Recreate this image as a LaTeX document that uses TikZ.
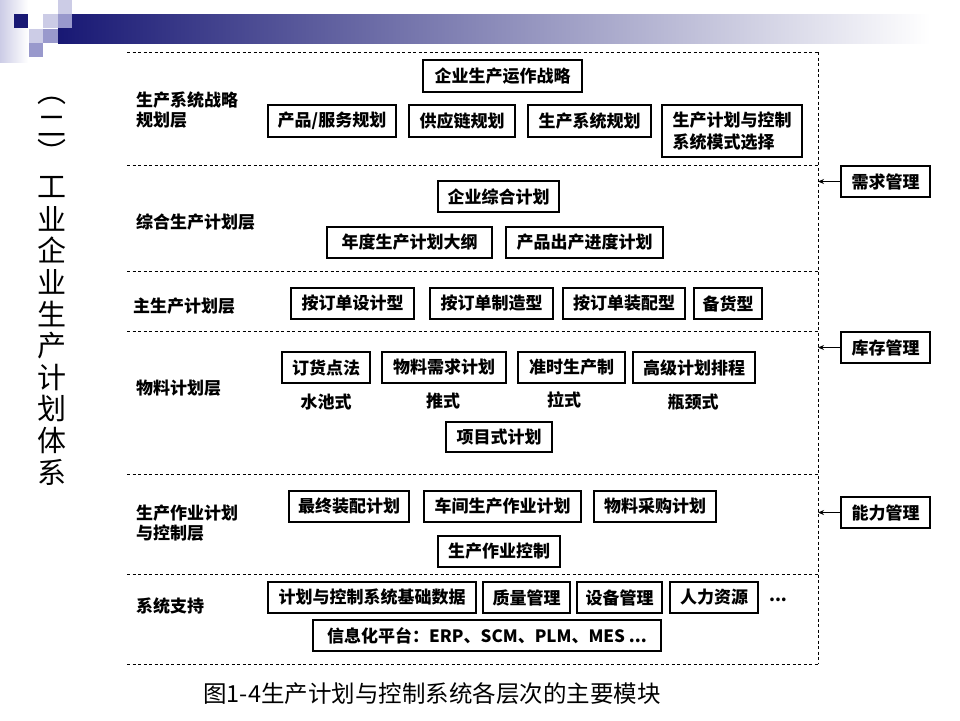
\documentclass[tikz,border=0pt]{standalone}
\usepackage{fontspec}
\setmainfont{Liberation Sans}
\newfontfamily\cjk{Noto Sans CJK SC}
\usetikzlibrary{arrows.meta}
\definecolor{navy}{RGB}{24,24,116}
\definecolor{lav}{RGB}{204,204,230}
\definecolor{midlav}{RGB}{153,153,204}
\definecolor{barmid}{RGB}{174,174,198}
\tikzset{
  mod/.style={draw, line width=1.1pt, fill=white, inner sep=0pt, align=center,
    font=\cjk\bfseries\fontsize{17}{22}\selectfont},
  lab/.style={anchor=west, inner sep=0pt, align=left,
    font=\cjk\bfseries\fontsize{17}{20}\selectfont},
  plain/.style={inner sep=0pt, font=\cjk\bfseries\fontsize{17}{20}\selectfont},
  tchar/.style={inner sep=0pt, font=\cjk\fontsize{29}{29}\selectfont},
  layer/.style={dash pattern=on 3pt off 2.5pt, line width=0.9pt},
  side/.style={-{Stealth[length=6pt,width=5pt]}, line width=1.1pt}
}
\newcommand\modbox[6]{\node[mod, minimum width={(#4)-(#2)}, minimum height={(#5)-(#3)}] (#1) at ({((#2)+(#4))/2},{((#3)+(#5))/2}) {#6};}
\begin{document}
\begin{tikzpicture}[x=1pt,y=-1pt]
\useasboundingbox (0,0) rectangle (960,720);
\fill[white] (0,0) rectangle (960,720);
% decoration
\shade[left color=lav, right color=white] (0,0) rectangle (28,62);
\shade[left color=navy, middle color=barmid, right color=white] (58,14) rectangle (930,43);
\fill[navy] (14,14) rectangle (28,28);
\fill[lav] (43,14) rectangle (58,28);
\fill[lav] (58,0) rectangle (72,14);
\fill[midlav] (58,14) rectangle (72,28);
\fill[lav] (29,29) rectangle (43,43);
\fill[midlav] (43,29) rectangle (58,43);
\fill[midlav] (29,43) rectangle (43,57);
% vertical title
\node[tchar] (t0) at (52,101) {︵};
\node[tchar] (t1) at (52,126) {二};
\node[tchar] (t2) at (52,151) {︶};
\foreach \c [count=\i from 0] in {工,业,企,业,生,产,计,划,体,系}
  \node[tchar] (tt\i) at (52,{187+31.7*\i}) {\c};
% layer lines
\foreach \yy in {52,165,271,331,474,574,664}
  \draw[layer] (127,\yy) -- (818,\yy);
\draw[layer] (818,52) -- (818,664);
% layer labels
\node[lab] (L1) at (136,110) {生产系统战略\\规划层};
\node[lab] (L2) at (136,222) {综合生产计划层};
\node[lab] (L3) at (133,306) {主生产计划层};
\node[lab] (L4) at (136,388) {物料计划层};
\node[lab] (L5) at (136,523) {生产作业计划\\与控制层};
\node[lab] (L6) at (136,606) {系统支持};
% layer 1
\modbox{b1}{423}{60}{582}{92}{企业生产运作战略}
\modbox{b2}{268}{105}{396}{137}{产品/服务规划}
\modbox{b3}{409}{105}{515}{137}{供应链规划}
\modbox{b4}{528}{105}{651}{137}{生产系统规划}
\node[mod, align=left, minimum width=140, minimum height=52] (b5) at (732,131) {生产计划与控制\\系统模式选择};
% layer 2
\modbox{c1}{438}{181}{559}{212}{企业综合计划}
\modbox{c2}{327}{227}{492}{258}{年度生产计划大纲}
\modbox{c3}{506}{227}{663}{258}{产品出产进度计划}
% layer 3
\modbox{d1}{291}{288}{414}{319}{按订单设计型}
\modbox{d2}{430}{288}{553}{319}{按订单制造型}
\modbox{d3}{563}{288}{685}{319}{按订单装配型}
\modbox{d4}{694}{288}{762}{319}{备货型}
% layer 4
\modbox{e1}{282}{352}{370}{383}{订货点法}
\modbox{e2}{382}{352}{506}{383}{物料需求计划}
\modbox{e3}{518}{352}{625}{383}{准时生产制}
\modbox{e4}{633}{352}{755}{383}{高级计划排程}
\node[plain] (s1) at (326,402) {水池式};
\node[plain] (s2) at (443,401) {推式};
\node[plain] (s3) at (564,400) {拉式};
\node[plain] (s4) at (693,402) {瓶颈式};
\modbox{e5}{446}{422}{552}{452}{项目式计划}
% layer 5
\modbox{f1}{289}{491}{409}{522}{最终装配计划}
\modbox{f2}{424}{491}{581}{522}{车间生产作业计划}
\modbox{f3}{594}{491}{716}{522}{物料采购计划}
\modbox{f4}{438}{536}{560}{567}{生产作业控制}
% layer 6
\modbox{g1}{268}{582}{476}{613}{计划与控制系统基础数据}
\modbox{g2}{483}{582}{570}{613}{质量管理}
\modbox{g3}{577}{582}{662}{613}{设备管理}
\modbox{g4}{670}{582}{758}{613}{人力资源}
\node[plain] (g5) at (778,600) {...};
\modbox{g6}{313}{620}{661}{651}{信息化平台：ERP、SCM、PLM、MES ...}
% right side
\modbox{r1}{841}{166}{930}{197}{需求管理}
\modbox{r2}{841}{332}{930}{363}{库存管理}
\modbox{r3}{841}{497}{930}{528}{能力管理}
\coordinate (a1) at (818,181.5);
\coordinate (a2) at (818,347.5);
\coordinate (a3) at (818,512.5);
\draw[side] (r1.west) -- (a1);
\draw[side] (r2.west) -- (a2);
\draw[side] (r3.west) -- (a3);
% caption
\node[inner sep=0pt, font=\cjk\fontsize{23.5}{24}\selectfont] (cap) at (432,694) {图1-4生产计划与控制系统各层次的主要模块};
\end{tikzpicture}
\end{document}
